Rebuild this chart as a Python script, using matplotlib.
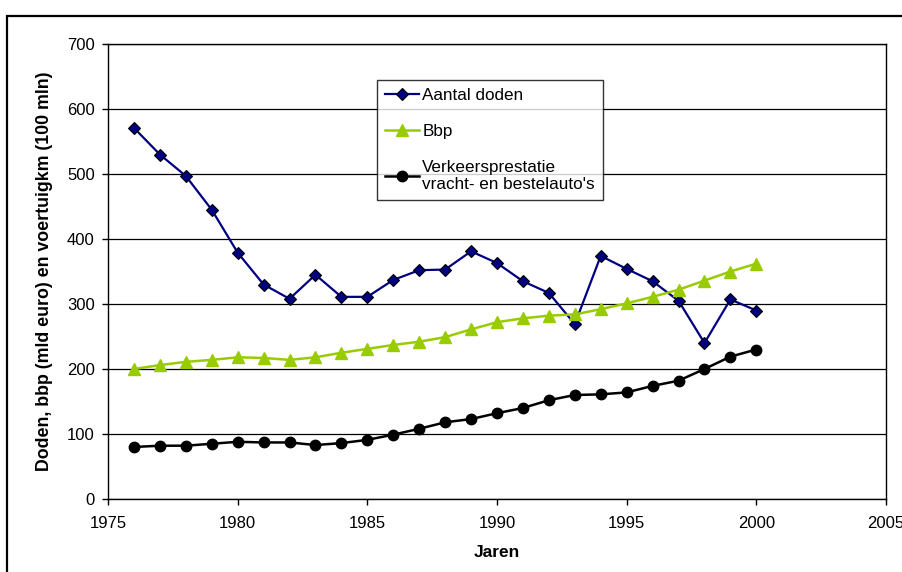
import matplotlib.pyplot as plt
from matplotlib.patches import Rectangle

plt.rcParams['font.family'] = ['Liberation Sans', 'DejaVu Sans']

jaren = list(range(1976, 2001))
aantal_doden = [571, 530, 497, 445, 379, 330, 308, 345, 311, 311,
                337, 352, 353, 381, 363, 335, 317, 269, 374, 354,
                335, 305, 240, 307, 290]
bbp = [200, 206, 211, 214, 218, 217, 214, 218, 225, 231,
       237, 242, 249, 261, 272, 278, 282, 284, 292, 301,
       311, 322, 336, 350, 362]
verkeersprestatie = [80, 82, 82, 85, 88, 87, 87, 83, 86, 91,
                     99, 108, 118, 123, 132, 140, 152, 160, 161, 164,
                     174, 182, 200, 219, 230]

x_ticks = [1975, 1980, 1985, 1990, 1995, 2000, 2005]
y_ticks = [0, 100, 200, 300, 400, 500, 600, 700]

fig = plt.figure(figsize=(9.02, 5.72), dpi=100)
ax = fig.add_axes([108/902, 73/572, 778/902, 455/572])

# outer chart border
fig.patches.append(Rectangle((7/902, -0.1), 1.2, 1.1 - 16/572,
                             transform=fig.transFigure, fill=False,
                             edgecolor='black', linewidth=1.6))

ax.plot(jaren, aantal_doden, color='#000080', linewidth=1.6,
        marker='D', markersize=6.5, markerfacecolor='#000080',
        markeredgecolor='black', markeredgewidth=0.8, label='Aantal doden')
ax.plot(jaren, bbp, color='#99CC00', linewidth=1.8,
        marker='^', markersize=9, markerfacecolor='#99CC00',
        markeredgecolor='#99CC00', label='Bbp')
ax.plot(jaren, verkeersprestatie, color='black', linewidth=1.8,
        marker='o', markersize=7.5, markerfacecolor='black',
        markeredgecolor='black',
        label="Verkeersprestatie\nvracht- en bestelauto's")

ax.set_xlim(1975, 2005)
ax.set_ylim(0, 700)
ax.set_xticks(x_ticks)
ax.set_yticks(y_ticks)
ax.tick_params(direction='out', length=4.5, width=1, labelsize=12)
ax.tick_params(axis='x', pad=8)
ax.tick_params(axis='y', pad=5)
ax.yaxis.grid(True, color='black', linewidth=0.9)
ax.set_axisbelow(True)
for s in ax.spines.values():
    s.set_linewidth(1)
    s.set_color('black')

ax.set_xlabel('Jaren', fontsize=12.5, fontweight='bold', labelpad=10)
ax.set_ylabel('Doden, bbp (mld euro) en voertuigkm (100 mln)',
              fontsize=12.8, fontweight='bold', labelpad=10)

leg = ax.legend(loc='upper left', bbox_to_anchor=(377/902, 1 - 80/572),
                bbox_transform=fig.transFigure,
                prop={'size': 12.3, 'family': ['Liberation Sans']},
                frameon=True, fancybox=False, shadow=False,
                handlelength=2.0, handletextpad=0.2, labelspacing=1.25,
                borderpad=0.45, borderaxespad=0)
leg.get_frame().set_edgecolor('black')
leg.get_frame().set_linewidth(1)
for t in leg.get_texts():
    t.set_linespacing(1.12)

fig.savefig('out.png', dpi=100)
